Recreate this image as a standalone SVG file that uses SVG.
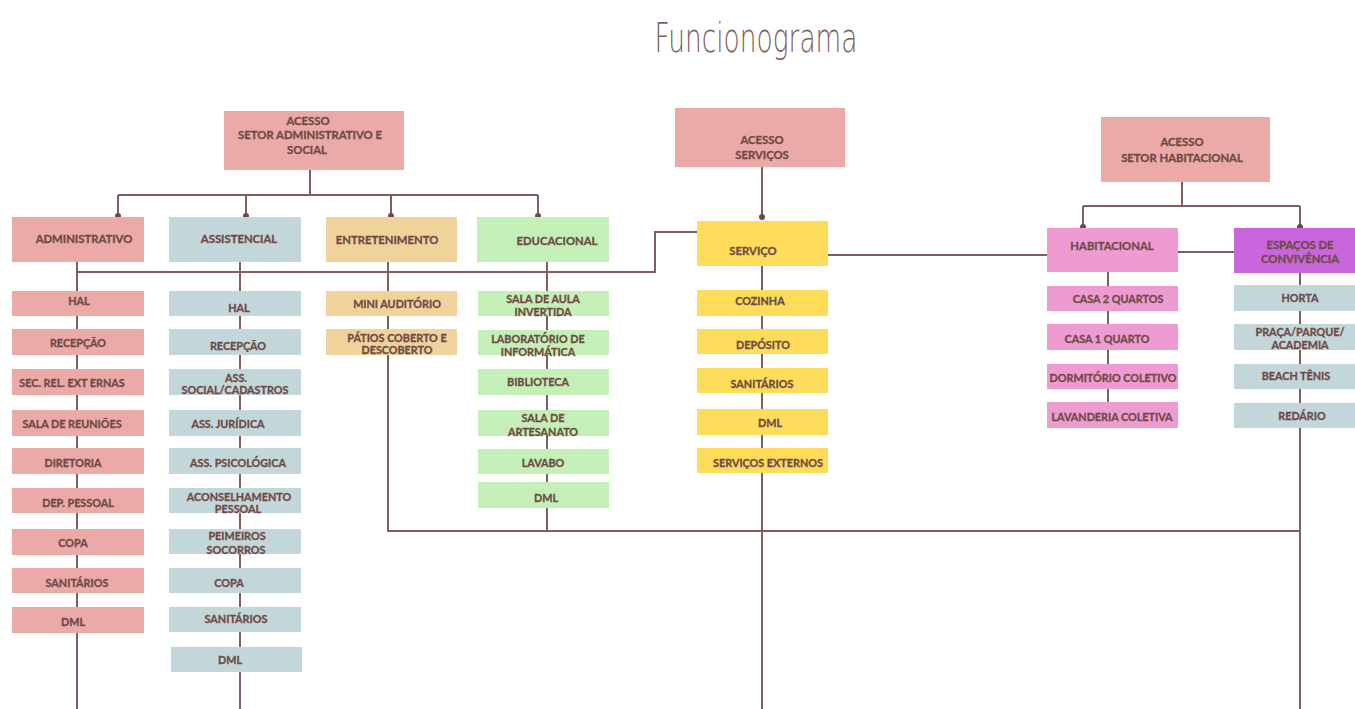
<svg xmlns="http://www.w3.org/2000/svg" width="1355" height="709" viewBox="0 0 1355 709">
<style>
.t{font-family:Lato,"Open Sans","Liberation Sans",sans-serif;font-weight:bold;fill:#6e4a46;stroke:#6e4a46;stroke-width:0.3;text-anchor:middle;dominant-baseline:central;font-size:10.8px}
.h{font-size:11.3px}
.ln{fill:none;stroke:#7d5e5a;stroke-width:2}
.dot{fill:#6e4a46}
.pk{fill:#eba9a7}.bl{fill:#c3d6da}.tn{fill:#f0d29b}.gr{fill:#c4efb6}.yl{fill:#ffdc5a}.mg{fill:#ee9bd2}.pu{fill:#c966dd}
</style>
<rect width="1355" height="709" fill="#ffffff"/>
<text x="756" y="52" font-family="'DejaVu Sans','Liberation Sans',sans-serif" font-weight="200" font-size="41" fill="#7e5f5b" text-anchor="middle" textLength="203" lengthAdjust="spacingAndGlyphs">Funcionograma</text>

<g id="connectors">
<path class="ln" d="M310 170V195M118 195H538M118 195V216M246 195V216M391 195V216M538 195V216"/>
<path class="ln" d="M762 167V217"/>
<path class="ln" d="M1182 182V206M1083 206H1300M1083 206V227M1300 206V227"/>
<path class="ln" d="M697 232H655V272H77"/>
<path class="ln" d="M828 255H1047M1178 252H1234"/>
<path class="ln" d="M77 262V709M240 262V709M388 262V531H1300M547 262V531M762 266V709M1300 273V709M1108 272V402"/>
<circle class="dot" cx="118" cy="216" r="3"/>
<circle class="dot" cx="246" cy="216" r="3"/>
<circle class="dot" cx="391" cy="216" r="3"/>
<circle class="dot" cx="538" cy="216" r="3"/>
<circle class="dot" cx="762" cy="217" r="3"/>
<circle class="dot" cx="1083" cy="227" r="3"/>
<circle class="dot" cx="1300" cy="227" r="3"/>
</g>

<g id="acesso-adm"><rect class="pk" x="224" y="111" width="180" height="59"/><text class="t h" x="308" y="120">ACESSO</text><text class="t h" x="310" y="134">SETOR ADMINISTRATIVO E</text><text class="t h" x="307" y="149">SOCIAL</text></g>
<g id="acesso-serv"><rect class="pk" x="675" y="108" width="170" height="59"/><text class="t h" x="762" y="139">ACESSO</text><text class="t h" x="762" y="154">SERVIÇOS</text></g>
<g id="acesso-hab"><rect class="pk" x="1101" y="117" width="169" height="65"/><text class="t h" x="1182" y="141">ACESSO</text><text class="t h" x="1182" y="157">SETOR HABITACIONAL</text></g>

<g id="administrativo"><rect class="pk" x="12" y="217" width="132" height="45"/><text class="t h" x="84" y="238">ADMINISTRATIVO</text></g>
<g id="assistencial"><rect class="bl" x="169" y="217" width="132" height="45"/><text class="t h" x="239" y="238">ASSISTENCIAL</text></g>
<g id="entretenimento"><rect class="tn" x="326" y="217" width="131" height="45"/><text class="t h" x="387" y="239">ENTRETENIMENTO</text></g>
<g id="educacional"><rect class="gr" x="477" y="217" width="132" height="45"/><text class="t h" x="557" y="240">EDUCACIONAL</text></g>
<g id="servico"><rect class="yl" x="697" y="221" width="131" height="45"/><text class="t h" x="753" y="250">SERVIÇO</text></g>
<g id="habitacional"><rect class="mg" x="1047" y="228" width="131" height="44"/><text class="t h" x="1112" y="245">HABITACIONAL</text></g>
<g id="espacos"><rect class="pu" x="1234" y="228" width="125" height="45"/><text class="t h" x="1300" y="244">ESPAÇOS DE</text><text class="t h" x="1300" y="258">CONVIVÊNCIA</text></g>

<g id="adm-hal"><rect class="pk" x="12" y="291" width="132" height="25"/><text class="t" x="79" y="300">HAL</text></g>
<g id="adm-recepcao"><rect class="pk" x="12" y="329" width="132" height="26"/><text class="t" x="78" y="342">RECEPÇÃO</text></g>
<g id="adm-sec"><rect class="pk" x="12" y="369" width="132" height="26"/><text class="t" x="72" y="382">SEC. REL. EXT ERNAS</text></g>
<g id="adm-sala"><rect class="pk" x="12" y="410" width="132" height="26"/><text class="t" x="72" y="423">SALA DE REUNIÕES</text></g>
<g id="adm-diretoria"><rect class="pk" x="12" y="448" width="132" height="26"/><text class="t" x="73" y="462">DIRETORIA</text></g>
<g id="adm-dep"><rect class="pk" x="12" y="488" width="132" height="25"/><text class="t" x="78" y="502">DEP. PESSOAL</text></g>
<g id="adm-copa"><rect class="pk" x="12" y="529" width="132" height="26"/><text class="t" x="73" y="542">COPA</text></g>
<g id="adm-sanitarios"><rect class="pk" x="12" y="568" width="132" height="25"/><text class="t" x="77" y="582">SANITÁRIOS</text></g>
<g id="adm-dml"><rect class="pk" x="12" y="607" width="132" height="26"/><text class="t" x="73" y="621">DML</text></g>

<g id="ass-hal"><rect class="bl" x="169" y="291" width="132" height="25"/><text class="t" x="239" y="307">HAL</text></g>
<g id="ass-recepcao"><rect class="bl" x="169" y="329" width="132" height="26"/><text class="t" x="238" y="345">RECEPÇÃO</text></g>
<g id="ass-social"><rect class="bl" x="169" y="369" width="132" height="26"/><text class="t" x="236" y="377">ASS.</text><text class="t" x="235" y="389">SOCIAL/CADASTROS</text></g>
<g id="ass-juridica"><rect class="bl" x="169" y="410" width="132" height="26"/><text class="t" x="228" y="423">ASS. JURÍDICA</text></g>
<g id="ass-psicologica"><rect class="bl" x="169" y="448" width="132" height="26"/><text class="t" x="238" y="462">ASS. PSICOLÓGICA</text></g>
<g id="ass-aconselhamento"><rect class="bl" x="169" y="488" width="132" height="25"/><text class="t" x="239" y="496">ACONSELHAMENTO</text><text class="t" x="238" y="508">PESSOAL</text></g>
<g id="ass-socorros"><rect class="bl" x="169" y="529" width="132" height="25"/><text class="t" x="237" y="535">PEIMEIROS</text><text class="t" x="236" y="549">SOCORROS</text></g>
<g id="ass-copa"><rect class="bl" x="169" y="568" width="132" height="25"/><text class="t" x="229" y="582">COPA</text></g>
<g id="ass-sanitarios"><rect class="bl" x="169" y="607" width="132" height="25"/><text class="t" x="236" y="618">SANITÁRIOS</text></g>
<g id="ass-dml"><rect class="bl" x="171" y="647" width="131" height="25"/><text class="t" x="230" y="659">DML</text></g>

<g id="ent-mini"><rect class="tn" x="326" y="291" width="131" height="25"/><text class="t" x="397" y="303">MINI AUDITÓRIO</text></g>
<g id="ent-patios"><rect class="tn" x="326" y="329" width="131" height="26"/><text class="t" x="397" y="337">PÁTIOS COBERTO E</text><text class="t" x="397" y="349">DESCOBERTO</text></g>

<g id="edu-sala-aula"><rect class="gr" x="478" y="291" width="131" height="25"/><text class="t" x="543" y="298">SALA DE AULA</text><text class="t" x="543" y="311">INVERTIDA</text></g>
<g id="edu-lab"><rect class="gr" x="478" y="330" width="131" height="25"/><text class="t" x="538" y="338">LABORATÓRIO DE</text><text class="t" x="538" y="351">INFORMÁTICA</text></g>
<g id="edu-biblioteca"><rect class="gr" x="478" y="369" width="131" height="26"/><text class="t" x="538" y="381">BIBLIOTECA</text></g>
<g id="edu-artesanato"><rect class="gr" x="478" y="410" width="131" height="26"/><text class="t" x="543" y="417">SALA DE</text><text class="t" x="543" y="431">ARTESANATO</text></g>
<g id="edu-lavabo"><rect class="gr" x="478" y="449" width="131" height="25"/><text class="t" x="543" y="462">LAVABO</text></g>
<g id="edu-dml"><rect class="gr" x="478" y="482" width="131" height="26"/><text class="t" x="546" y="497">DML</text></g>

<g id="srv-cozinha"><rect class="yl" x="697" y="290" width="131" height="26"/><text class="t" x="760" y="300">COZINHA</text></g>
<g id="srv-deposito"><rect class="yl" x="697" y="329" width="131" height="25"/><text class="t" x="763" y="344">DEPÓSITO</text></g>
<g id="srv-sanitarios"><rect class="yl" x="697" y="368" width="131" height="25"/><text class="t" x="762" y="383">SANITÁRIOS</text></g>
<g id="srv-dml"><rect class="yl" x="697" y="409" width="131" height="26"/><text class="t" x="770" y="422">DML</text></g>
<g id="srv-externos"><rect class="yl" x="697" y="448" width="131" height="25"/><text class="t" x="768" y="462">SERVIÇOS EXTERNOS</text></g>

<g id="hab-casa2"><rect class="mg" x="1047" y="286" width="131" height="25"/><text class="t" x="1118" y="298">CASA 2 QUARTOS</text></g>
<g id="hab-casa1"><rect class="mg" x="1047" y="324" width="131" height="26"/><text class="t" x="1107" y="338">CASA 1 QUARTO</text></g>
<g id="hab-dormitorio"><rect class="mg" x="1047" y="364" width="131" height="25"/><text class="t" x="1113" y="377">DORMITÓRIO COLETIVO</text></g>
<g id="hab-lavanderia"><rect class="mg" x="1047" y="402" width="131" height="26"/><text class="t" x="1112" y="416">LAVANDERIA COLETIVA</text></g>

<g id="esp-horta"><rect class="bl" x="1234" y="285" width="125" height="26"/><text class="t" x="1300" y="297">HORTA</text></g>
<g id="esp-praca"><rect class="bl" x="1234" y="324" width="125" height="26"/><text class="t" x="1300" y="331">PRAÇA/PARQUE/</text><text class="t" x="1300" y="344">ACADEMIA</text></g>
<g id="esp-beach"><rect class="bl" x="1234" y="364" width="125" height="25"/><text class="t" x="1296" y="375">BEACH TÊNIS</text></g>
<g id="esp-redario"><rect class="bl" x="1234" y="403" width="125" height="25"/><text class="t" x="1302" y="415">REDÁRIO</text></g>
</svg>
